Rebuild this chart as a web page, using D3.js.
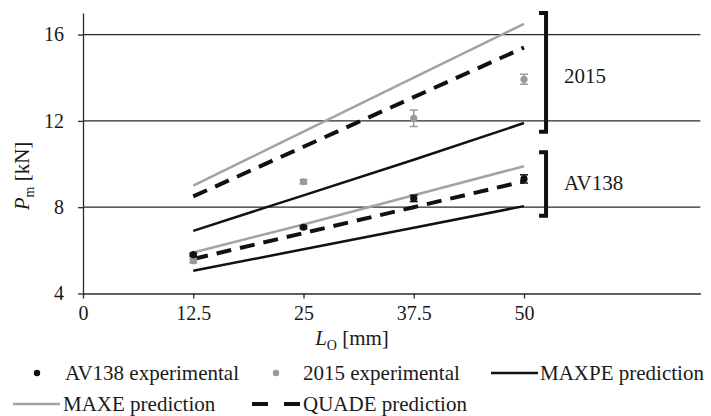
<!DOCTYPE html>
<html><head><meta charset="utf-8">
<script src="https://cdn.jsdelivr.net/npm/d3@7"></script>
<style>
body{margin:0;background:#fff}
</style>
</head><body>
<svg id="c" width="711" height="416" font-family="Liberation Serif"></svg>
<script>
// ---- data ----
const lengths = [12.5, 25, 37.5, 50];
const xTicks = [0, 12.5, 25, 37.5, 50];
const yTicks = [4, 8, 12, 16];
const maxe2015  = [9.0, 11.5, 14.0, 16.5];
const quade2015 = [8.5, 10.8, 13.1, 15.4];
const maxpe2015 = [6.9, 8.55, 10.2, 11.9];
const maxeAV    = [5.9, 7.2, 8.55, 9.9];
const quadeAV   = [5.6, 6.8, 8.0, 9.2];
const maxpeAV   = [5.05, 6.05, 7.05, 8.05];
const expAV     = [5.8, 7.07, 8.41, 9.31];
const expAVErr  = [0.06, 0.06, 0.15, 0.19];
const exp2015   = [5.52, 9.18, 12.12, 13.93];
const exp2015Err= [0.1, 0.1, 0.38, 0.23];
const groups = ["2015", "AV138"];
const groupTop = [17, 10.55];
const groupBottom = [11.5, 7.6];
const groupLabelY = [14.08, 9.12];

const FONT = "Liberation Serif";
const TXT = "#1a1a1a";
const svg = d3.select("#c");
const x = d3.scaleLinear().domain([0, 70]).range([83, 700.4]);
const y = d3.scaleLinear().domain([4, 17]).range([293.5, 13]);
const axisColor = "#2a2a2a";

// gridlines
svg.append("g").selectAll("line").data(yTicks.filter(v => v > 4)).join("line")
  .attr("x1", x(0)).attr("x2", x(70)).attr("y1", d => y(d)).attr("y2", d => y(d))
  .attr("stroke", axisColor).attr("stroke-width", 1.3);

// axes
const gy = svg.append("g").attr("transform", `translate(${x(0)},0)`)
  .call(d3.axisLeft(y).tickValues(yTicks).tickFormat(d3.format("d")).tickSize(5).tickSizeOuter(0).tickPadding(14));
const gx = svg.append("g").attr("transform", `translate(0,${y(4)})`)
  .call(d3.axisBottom(x).tickValues(xTicks).tickFormat(d => d).tickSize(5).tickSizeOuter(0).tickPadding(7));
[gx, gy].forEach(g => {
  g.attr("font-family", FONT).attr("font-size", 20);
  g.selectAll("path,line").attr("stroke", axisColor).attr("stroke-width", 1.3);
  g.selectAll("text").attr("fill", TXT);
});

// prediction lines
const line = d3.line().x((d, i) => x(lengths[i])).y(d => y(d));
const series = [
  {v: maxe2015, c: "#a3a3a3", w: 2.5, dash: null},
  {v: quade2015, c: "#111", w: 4, dash: "15,9"},
  {v: maxpe2015, c: "#111", w: 2.5, dash: null},
  {v: maxeAV, c: "#a3a3a3", w: 2.5, dash: null},
  {v: quadeAV, c: "#111", w: 4, dash: "15,9"},
  {v: maxpeAV, c: "#111", w: 2.5, dash: null}
];
series.forEach(s => {
  svg.append("path").attr("d", line(s.v)).attr("fill", "none")
    .attr("stroke", s.c).attr("stroke-width", s.w)
    .attr("stroke-dasharray", s.dash);
});

// experimental points with error bars
function points(vals, errs, color) {
  const g = svg.append("g");
  vals.forEach((v, i) => {
    const cx = x(lengths[i]);
    g.append("line").attr("x1", cx).attr("x2", cx).attr("y1", y(v - errs[i])).attr("y2", y(v + errs[i]))
      .attr("stroke", color).attr("stroke-width", 1.5);
    [v - errs[i], v + errs[i]].forEach(e => g.append("line").attr("x1", cx - 4).attr("x2", cx + 4)
      .attr("y1", y(e)).attr("y2", y(e)).attr("stroke", color).attr("stroke-width", 1.5));
    g.append("circle").attr("cx", cx).attr("cy", y(v)).attr("r", 3.6).attr("fill", color);
  });
}
points(exp2015, exp2015Err, "#999");
points(expAV, expAVErr, "#111");

// group brackets
const bx = x(52.5);
groups.forEach((gname, i) => {
  svg.append("path")
    .attr("d", `M${bx - 7},${y(groupTop[i])}H${bx}V${y(groupBottom[i])}H${bx - 7}`)
    .attr("fill", "none").attr("stroke", "#111").attr("stroke-width", 4);
  svg.append("text").attr("x", bx + 18).attr("y", y(groupLabelY[i])).attr("dy", "0.35em")
    .attr("font-family", FONT).attr("font-size", 21).attr("fill", TXT).text(gname);
});

// axis titles
const yt = svg.append("text").attr("transform", "translate(29,176) rotate(-90)")
  .attr("text-anchor", "middle").attr("font-family", FONT).attr("font-size", 21).attr("fill", TXT);
yt.append("tspan").attr("font-style", "italic").text("P");
yt.append("tspan").attr("font-size", 14).attr("dy", 5).text("m");
yt.append("tspan").attr("dy", -5).text(" [kN]");

const xt = svg.append("text").attr("x", 352).attr("y", 345)
  .attr("text-anchor", "middle").attr("font-family", FONT).attr("font-size", 21).attr("fill", TXT);
xt.append("tspan").attr("font-style", "italic").text("L");
xt.append("tspan").attr("font-size", 14).attr("dy", 5).text("O");
xt.append("tspan").attr("dy", -5).text(" [mm]");

// legend
const leg = svg.append("g");
function legText(tx, ty, t) {
  leg.append("text").attr("x", tx).attr("y", ty).attr("dy", "0.33em")
    .attr("font-family", FONT).attr("font-size", 21).attr("fill", TXT).text(t);
}
const r1 = 373, r2 = 404;
leg.append("circle").attr("cx", 37).attr("cy", r1).attr("r", 3.2).attr("fill", "#111");
legText(65, r1, "AV138 experimental");
leg.append("circle").attr("cx", 276).attr("cy", r1).attr("r", 3.2).attr("fill", "#999");
legText(303, r1, "2015 experimental");
leg.append("line").attr("x1", 491).attr("x2", 538).attr("y1", r1).attr("y2", r1).attr("stroke", "#111").attr("stroke-width", 2.5);
legText(540, r1, "MAXPE prediction");
leg.append("line").attr("x1", 13).attr("x2", 60).attr("y1", r2).attr("y2", r2).attr("stroke", "#a3a3a3").attr("stroke-width", 2.5);
legText(63, r2, "MAXE prediction");
leg.append("line").attr("x1", 252).attr("x2", 300).attr("y1", r2).attr("y2", r2).attr("stroke", "#111").attr("stroke-width", 4).attr("stroke-dasharray", "16,16");
legText(303, r2, "QUADE prediction");
</script>
</body></html>
